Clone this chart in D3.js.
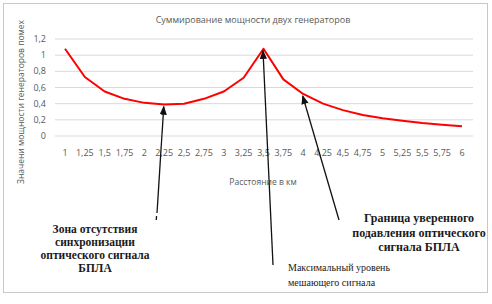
<!DOCTYPE html>
<html>
<head>
<meta charset="utf-8">
<script src="https://cdn.jsdelivr.net/npm/d3@7"></script>
<style>
  body { margin: 0; background: #fff; }
  svg text { font-family: "Open Sans", "Liberation Sans", sans-serif; }
</style>
</head>
<body>
<div id="chart"></div>
<script>
// data
var distances = ["1", "1,25", "1,5", "1,75", "2", "2,25", "2,5", "2,75", "3", "3,25", "3,5",
                 "3,75", "4", "4,25", "4,5", "4,75", "5", "5,25", "5,5", "5,75", "6"];
var power = [1.08, 0.73, 0.55, 0.46, 0.41, 0.39, 0.40, 0.46, 0.55, 0.72, 1.08,
             0.70, 0.52, 0.40, 0.32, 0.26, 0.22, 0.19, 0.16, 0.14, 0.12];
var yTicks = [0, 0.2, 0.4, 0.6, 0.8, 1, 1.2];

var title = "Суммирование мощности двух генераторов";
var xTitle = "Расстояние в км";
var yTitle = "Значени мощности генераторов помех";

var zoneLines = ["Зона отсутствия", "синхронизации", "оптического сигнала", "БПЛА"];
var borderLines = ["Граница уверенного", "подавления оптического", "сигнала БПЛА"];
var maxLines = ["Максимальный уровень", "мешающего сигнала"];

var W = 492, H = 304;

var svg = d3.select("#chart")
    .append("svg")
    .attr("width", W)
    .attr("height", H);

// outer frame
svg.append("rect")
    .attr("x", 3.5).attr("y", 3.5)
    .attr("width", 484).attr("height", 289)
    .attr("fill", "#fff")
    .attr("stroke", "#c8c8c8");

var x = d3.scalePoint()
    .domain(distances)
    .range([65, 462]);

var y = d3.scaleLinear()
    .domain([0, 1.2])
    .range([136, 39]);

var fmt = function(d){ return String(d).replace(".", ","); };

// gridlines
svg.append("g")
    .selectAll("line")
    .data(yTicks)
    .enter()
    .append("line")
    .attr("x1", 55).attr("x2", 473)
    .attr("y1", function(d){ return y(d); })
    .attr("y2", function(d){ return y(d); })
    .attr("stroke", "#d9d9d9")
    .attr("stroke-width", 1);

// y tick labels
svg.append("g")
    .selectAll("text")
    .data(yTicks)
    .enter()
    .append("text")
    .attr("x", 46)
    .attr("y", function(d){ return y(d); })
    .attr("dy", "0.35em")
    .attr("text-anchor", "end")
    .attr("fill", "#595959")
    .style("font-size", "9px")
    .text(fmt);

// x tick labels
svg.append("g")
    .selectAll("text")
    .data(distances)
    .enter()
    .append("text")
    .attr("x", function(d){ return x(d); })
    .attr("y", 156)
    .attr("text-anchor", "middle")
    .attr("fill", "#595959")
    .style("font-size", "9px")
    .text(function(d){ return d; });

// titles
svg.append("text")
    .attr("x", 253).attr("y", 23)
    .attr("text-anchor", "middle")
    .attr("fill", "#595959")
    .style("font-size", "9px")
    .text(title);

svg.append("text")
    .attr("x", 263).attr("y", 185)
    .attr("text-anchor", "middle")
    .attr("fill", "#595959")
    .style("font-size", "8.5px")
    .text(xTitle);

svg.append("text")
    .attr("transform", "translate(24,102)rotate(-90)")
    .attr("text-anchor", "middle")
    .attr("fill", "#595959")
    .style("font-size", "8.5px")
    .text(yTitle);

// the curve
var line = d3.line()
    .x(function(d, i){ return x(distances[i]); })
    .y(function(d){ return y(d); });

svg.append("path")
    .datum(power)
    .attr("d", line)
    .attr("fill", "none")
    .attr("stroke", "#ff0000")
    .attr("stroke-width", 2)
    .attr("stroke-linejoin", "round");

// arrows
svg.append("defs").append("marker")
    .attr("id", "head")
    .attr("viewBox", "0 0 10 10")
    .attr("refX", 9).attr("refY", 5)
    .attr("markerWidth", 7).attr("markerHeight", 7)
    .attr("orient", "auto")
    .append("path")
    .attr("d", "M0,1 L10,5 L0,9 Z")
    .attr("fill", "#111");

var arrows = [
    {from: [157, 213], cat: "2,25", i: 5},
    {from: [273, 265], cat: "3,5", i: 10},
    {from: [339, 220], cat: "4", i: 12}
];

svg.append("g")
    .selectAll("line")
    .data(arrows)
    .enter()
    .append("line")
    .attr("x1", function(d){ return d.from[0]; })
    .attr("y1", function(d){ return d.from[1]; })
    .attr("x2", function(d){ return x(d.cat) - 0.5; })
    .attr("y2", function(d){ return y(power[d.i]) + 2; })
    .attr("stroke", "#111")
    .attr("stroke-width", 1.3)
    .attr("marker-end", "url(#head)");

// small dash under the first arrow
svg.append("line")
    .attr("x1", 156.5).attr("y1", 216)
    .attr("x2", 156.3).attr("y2", 220)
    .attr("stroke", "#111")
    .attr("stroke-width", 1.3);

// annotation texts
function drawLines(lines, cx, y0, step, anchor, weight, size){
    svg.append("g")
        .selectAll("text")
        .data(lines)
        .enter()
        .append("text")
        .attr("x", cx)
        .attr("y", function(d, i){ return y0 + i * step; })
        .attr("text-anchor", anchor)
        .attr("fill", "#1a1a1a")
        .style("font-family", "'Liberation Serif', 'DejaVu Serif', serif")
        .style("font-weight", weight)
        .style("font-size", size)
        .text(function(d){ return d; });
}

drawLines(zoneLines, 95, 233, 13, "middle", "bold", "11.5px");
drawLines(borderLines, 419, 222, 14.5, "middle", "bold", "12px");
drawLines(maxLines, 288, 271, 15, "start", "normal", "10px");
</script>
</body>
</html>
